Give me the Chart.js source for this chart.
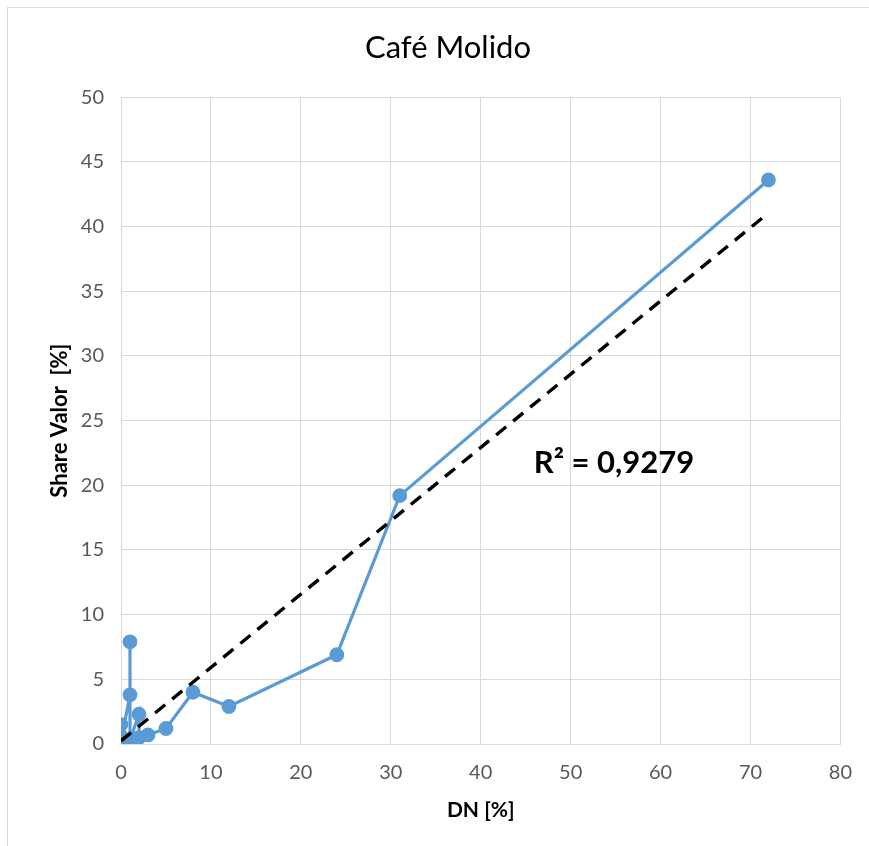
<!DOCTYPE html>
<html>
<head>
<meta charset="utf-8">
<script src="https://cdn.jsdelivr.net/npm/chart.js@4/dist/chart.umd.min.js"></script>
<style>
  html, body { margin: 0; padding: 0; background: #fff; }
  #wrap { width: 869px; height: 846px; }
</style>
</head>
<body>
<div id="wrap"><canvas id="cafe"></canvas></div>
<script>
// DN [%] vs Share Valor [%], in data order (Excel scatter with lines)
var dnValues    = [0, 0, 0, 0, 0, 1, 1, 1, 2, 2, 3, 5, 8, 12, 24, 31, 72];
var shareValues = [0.1, 0.3, 1.5, 0.6, 0.2, 3.8, 7.9, 0.3, 2.3, 0.5, 0.7, 1.2, 4.0, 2.9, 6.9, 19.2, 43.6];
var xTicks = [0, 10, 20, 30, 40, 50, 60, 70, 80];
var yTicks = [0, 5, 10, 15, 20, 25, 30, 35, 40, 45, 50];
var rSquaredLabel = 'R² = 0,9279';

// linear trendline (least squares) over the points
var n = dnValues.length, sx = 0, sy = 0, sxy = 0, sxx = 0;
for (var i = 0; i < n; i++) {
  sx += dnValues[i]; sy += shareValues[i];
  sxy += dnValues[i] * shareValues[i];
  sxx += dnValues[i] * dnValues[i];
}
var slope = (n * sxy - sx * sy) / (n * sxx - sx * sx);
var intercept = (sy - slope * sx) / n;
var xMin = Math.min.apply(null, dnValues), xMax = Math.max.apply(null, dnValues);
var trendPoints = [
  { x: xMin, y: intercept + slope * xMin },
  { x: xMax, y: intercept + slope * xMax }
];

var points = dnValues.map(function (d, i) { return { x: d, y: shareValues[i] }; });

var fontFam = 'Lato, "Open Sans", sans-serif';

// frame + R² text
var extras = {
  id: 'extras',
  beforeDraw: function (chart) {
    var c = chart.ctx;
    c.save();
    c.fillStyle = '#fff';
    c.fillRect(0, 0, chart.width, chart.height);
    c.strokeStyle = '#d9d9d9';
    c.lineWidth = 1;
    c.strokeRect(7.5, 7.5, chart.width + 20, chart.height + 20);
    c.restore();
  },
  afterDatasetsDraw: function (chart) {
    var c = chart.ctx;
    var xs = chart.scales.x, ys = chart.scales.y;
    c.save();
    c.font = 'bold 31px ' + fontFam;
    c.fillStyle = '#000';
    c.textBaseline = 'middle';
    c.fillText(rSquaredLabel, xs.getPixelForValue(45.9), ys.getPixelForValue(21.7));
    c.restore();
  }
};

new Chart(document.getElementById('cafe').getContext('2d'), {
  type: 'scatter',
  data: {
    datasets: [
      {
        label: 'Share',
        data: points,
        showLine: true,
        borderColor: '#5b9bd5',
        backgroundColor: '#5b9bd5',
        borderWidth: 3.2,
        pointRadius: 5.8,
        pointHoverRadius: 5.8,
        order: 1
      },
      {
        label: 'Lineal',
        data: trendPoints,
        showLine: true,
        borderColor: '#000',
        borderWidth: 3.4,
        borderDash: [13, 9],
        pointRadius: 0,
        order: 0
      }
    ]
  },
  options: {
    responsive: true,
    maintainAspectRatio: false,
    animation: false,
    layout: { padding: { left: 51, right: 24, top: 0, bottom: 0 } },
    plugins: {
      legend: { display: false },
      tooltip: { enabled: false },
      title: {
        display: true,
        text: 'Café Molido',
        color: '#000',
        font: { family: fontFam, size: 31, weight: 'normal' },
        padding: { top: 29, bottom: 31 }
      }
    },
    scales: {
      x: {
        type: 'linear',
        min: 0, max: 80,
        afterBuildTicks: function (s) { s.ticks = xTicks.map(function (v) { return { value: v }; }); },
        afterFit: function (s) { s.height = 102; },
        grid: { color: '#d9d9d9', drawTicks: false },
        border: { color: '#d9d9d9' },
        ticks: { color: '#595959', padding: 17, font: { family: fontFam, size: 20 } },
        title: {
          display: true, text: 'DN [%]', color: '#000',
          font: { family: fontFam, size: 21, weight: 'bold' },
          padding: { top: 0, bottom: 23 }
        }
      },
      y: {
        type: 'linear',
        min: 0, max: 50,
        afterBuildTicks: function (s) { s.ticks = yTicks.map(function (v) { return { value: v }; }); },
        afterFit: function (s) { s.width = 70; },
        grid: { color: '#d9d9d9', drawTicks: false },
        border: { color: '#d9d9d9' },
        ticks: { color: '#595959', padding: 17, font: { family: fontFam, size: 20 } },
        title: {
          display: true, text: 'Share Valor  [%]', color: '#000',
          font: { family: fontFam, size: 22, weight: 'bold' },
          padding: { top: -4, bottom: 0 }
        }
      }
    }
  },
  plugins: [extras]
});
</script>
</body>
</html>
